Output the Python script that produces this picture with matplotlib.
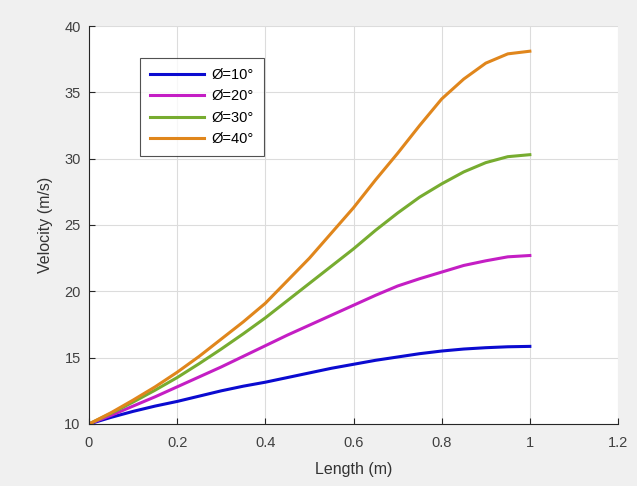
import matplotlib
matplotlib.use("Agg")
import matplotlib.pyplot as plt

plt.rcParams['font.family'] = ['Liberation Sans', 'DejaVu Sans']

# values
length = [0.0, 0.05, 0.1, 0.15, 0.2, 0.25, 0.3, 0.35, 0.4, 0.45, 0.5,
          0.55, 0.6, 0.65, 0.7, 0.75, 0.8, 0.85, 0.9, 0.95, 1.0]
v10 = [10.0, 10.5, 10.95, 11.35, 11.7, 12.1, 12.5, 12.85, 13.15, 13.5, 13.85,
       14.2, 14.5, 14.8, 15.05, 15.3, 15.5, 15.65, 15.75, 15.82, 15.85]
v20 = [10.0, 10.65, 11.35, 12.05, 12.8, 13.55, 14.3, 15.1, 15.9, 16.7, 17.45,
       18.2, 18.95, 19.7, 20.4, 20.95, 21.45, 21.95, 22.3, 22.6, 22.7]
v30 = [10.0, 10.8, 11.65, 12.55, 13.5, 14.55, 15.65, 16.8, 18.0, 19.3, 20.6,
       21.9, 23.2, 24.6, 25.9, 27.1, 28.1, 29.0, 29.7, 30.15, 30.3]
v40 = [10.0, 10.85, 11.8, 12.8, 13.9, 15.1, 16.4, 17.7, 19.1, 20.8, 22.5,
       24.4, 26.3, 28.4, 30.4, 32.5, 34.5, 36.0, 37.2, 37.9, 38.1]
labels = ['Ø=10°', 'Ø=20°', 'Ø=30°', 'Ø=40°']
colors = ['#0b0bd0', '#c41ec4', '#77ac30', '#e0861c']

fig = plt.figure(figsize=(6.37, 4.86), dpi=100, facecolor='#f0f0f0')
ax = fig.add_axes([0.1397, 0.1276, 0.8305, 0.8189])

for ys, lab, c in zip([v10, v20, v30, v40], labels, colors):
    ax.plot(length, ys, color=c, lw=2.2, label=lab, solid_joinstyle='round')

ax.set_xlim(0, 1.2)
ax.set_ylim(10, 40)
ax.set_xticks([0, 0.2, 0.4, 0.6, 0.8, 1, 1.2])
ax.set_xticklabels(['0', '0.2', '0.4', '0.6', '0.8', '1', '1.2'])
ax.set_yticks([10, 15, 20, 25, 30, 35, 40])
ax.grid(True, color='#dcdcdc', lw=0.8)
ax.set_axisbelow(True)
ax.spines['top'].set_visible(False)
ax.spines['right'].set_visible(False)
ax.spines['left'].set_color('#262626')
ax.spines['bottom'].set_color('#262626')
ax.tick_params(direction='in', length=4, labelsize=10.5, colors='#262626', pad=6)
ax.tick_params(axis='x', pad=9)
ax.tick_params(labelcolor='#404040')

ax.set_xlabel('Length (m)', fontsize=11.5, color='#333333', labelpad=8)
ax.set_ylabel('Velocity (m/s)', fontsize=11.5, color='#333333', labelpad=8)

leg = ax.legend(loc='upper left', bbox_to_anchor=(0.096, 0.92), borderaxespad=0,
                fontsize=10.5, frameon=True, fancybox=False, handlelength=3.7,
                handletextpad=0.5, labelspacing=0.5, borderpad=0.7)
leg.get_frame().set_edgecolor('#262626')
leg.get_frame().set_linewidth(0.8)

fig.savefig('out.png', dpi=100, facecolor=fig.get_facecolor())
